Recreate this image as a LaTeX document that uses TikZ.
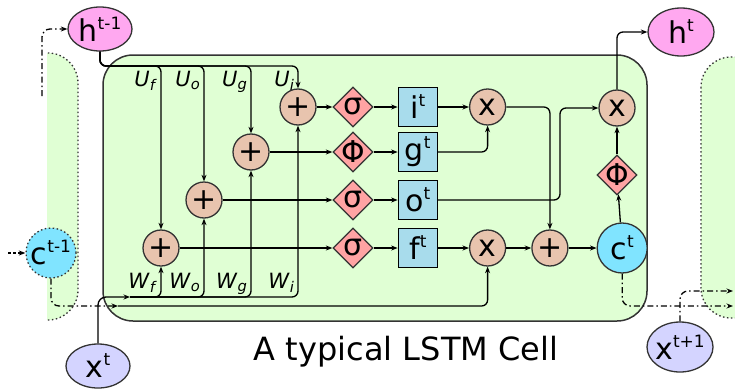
\documentclass[tikz,border=0pt]{standalone}
\usepackage{fontspec}
\setmainfont{DejaVu Sans}
\usepackage{xcolor}
\usepackage{tikz}
\usetikzlibrary{arrows.meta,positioning,shapes.geometric}

\definecolor{cellgreen}{HTML}{E0FFD4}
\definecolor{opfill}{HTML}{E8C4AE}
\definecolor{actfill}{HTML}{FFA3A3}
\definecolor{gatefill}{HTML}{A8DCEC}
\definecolor{statefill}{HTML}{80E4FF}
\definecolor{hfill}{HTML}{FFA8F0}
\definecolor{xfill}{HTML}{D4D4FF}
\definecolor{edge}{HTML}{333333}

\newcommand\bigtxt{\fontsize{30}{34}\selectfont}
\newcommand\upidx[1]{\raisebox{12pt}{\fontsize{17}{17}\selectfont #1}}
\newcommand\wlab[2]{\textit{#1}\textsubscript{\textit{#2}}}

\begin{document}
\begin{tikzpicture}[
  x=1pt, y=-1pt,
  font=\bigtxt,
  line width=1.3pt,
  op/.style={circle, draw=edge, fill=opfill, minimum size=36pt, inner sep=0pt, label={center:#1}},
  act/.style={diamond, draw=edge, fill=actfill, minimum size=40pt, inner sep=0pt, label={center:#1}},
  gate/.style={draw=black, fill=gatefill, minimum size=39pt, inner sep=0pt},
  cstate/.style={circle, draw=edge, fill=statefill, minimum size=50pt, inner sep=0pt, label={center:#1}},
  hid/.style={ellipse, draw=edge, fill=hfill, minimum width=64pt, minimum height=44pt, inner sep=0pt, label={center:#1}},
  inp/.style={ellipse, draw=edge, fill=xfill, minimum width=64pt, minimum height=44pt, inner sep=0pt, label={center:#1}},
  wt/.style={font=\fontsize{21}{22}\selectfont, inner sep=0pt, anchor=base east},
  arr/.style={-{Stealth[length=6.5pt,width=5pt]}},
  carry/.style={dash pattern=on 6pt off 3pt on 1.5pt off 3pt},
  dots/.style={dash pattern=on 1.5pt off 2.5pt}
]
\useasboundingbox (0,0) rectangle (735,388);

% neighbouring cells
\begin{scope}
  \clip (47,0) rectangle (735,388);
  \draw[fill=cellgreen, draw=edge, dots, rounded corners=30pt] (16,53) rectangle (78,320);
  \draw[fill=cellgreen, draw=edge, dots, rounded corners=30pt] (701,57) rectangle (770,318);
\end{scope}

% the cell
\draw[fill=cellgreen, draw=edge, line width=1.5pt, rounded corners=30pt] (103,55) rectangle (647,321);

\coordinate (urow) at (0,66);
\coordinate (wrow) at (0,297);
\coordinate (xin) at (130,297);
\coordinate (cin) at (118,306);
\coordinate (oturn) at (560,0);
\coordinate (actcol) at (353,0);
\coordinate (hin) at (42,96);
\coordinate (cprev) at (8,253);
\coordinate (cout) at (733,306);
\coordinate (xout) at (733,291);

\node[hid={h\upidx{t-1}}] (hprev) at (100,29) {};
\node[hid={h\upidx{t}}, minimum width=66pt, minimum height=48pt] (hnext) at (681,32) {};
\node[inp={x\upidx{t}}] (xt) at (98,366) {};
\node[inp={x\upidx{t+1}}, minimum width=66pt, minimum height=50pt] (xnext) at (680,347) {};
\node[cstate={c\upidx{t-1}}, dots] (ctm) at (51,253) {};

\node[op=+] (plusf) at (161,248) {};
\node[op=+] (pluso) at (204,200) {};
\node[op=+] (plusg) at (251,152) {};
\node[op=+] (plusi) at (298,107) {};

\node[act=σ] (sigi) at (actcol |- plusi) {};
\node[act=Φ] (phig) at (actcol |- plusg) {};
\node[act=σ] (sigo) at (actcol |- pluso) {};
\node[act=σ] (sigf) at (actcol |- plusf) {};

\node[gate, right=24pt of sigi] (it) {i\upidx{t}};
\node[gate, right=24pt of phig] (gt) {g\upidx{t}};
\node[gate, right=24pt of sigo] (ot) {o\upidx{t}};
\node[gate, right=24pt of sigf] (ft) {f\upidx{t}};

\node[op=x, right=31pt of it] (muli) {};
\node[op=x, right=31pt of ft] (mulf) {};
\node[op=+, right=25pt of mulf] (addc) {};
\node[cstate={c\upidx{t}}, right=28pt of addc] (ct) {};
\node[act=Φ] (phic) at (617,175) {};
\node[op=x] (mulo) at (617,108) {};

\node[font=\fontsize{32}{36}\selectfont, anchor=base] (title) at (406,360) {A typical LSTM Cell};

% weights
\foreach \g in {f,o,g,i} {
  \draw[arr, rounded corners=6pt] (hprev) |- (urow -| plus\g) -- (plus\g);
  \draw[arr, rounded corners=6pt] (xin) -| (plus\g);
  \node[wt, xshift=-3pt, yshift=-20pt] (u\g) at (urow -| plus\g) {\wlab{U}{\g}};
  \node[wt, xshift=-3pt, yshift=9pt] (w\g) at (wrow -| plus\g) {\wlab{W}{\g}};
}
\draw[arr, rounded corners=8pt] (xt) |- (xin);

% gates
\draw[arr] (plusi) -- (sigi);
\draw[arr] (sigi) -- (it);
\draw[arr] (it) -- (muli);
\draw[arr] (plusg) -- (phig);
\draw[arr] (phig) -- (gt);
\draw[arr, rounded corners=6pt] (gt) -| (muli);
\draw[arr] (pluso) -- (sigo);
\draw[arr] (sigo) -- (ot);
\draw[arr, rounded corners=6pt] (ot) -| (oturn |- mulo) -- (mulo);
\draw[arr] (plusf) -- (sigf);
\draw[arr] (sigf) -- (ft);
\draw[arr] (ft) -- (mulf);
\draw[arr] (mulf) -- (addc);
\draw[arr] (addc) -- (ct);
\draw[arr, rounded corners=6pt] (muli) -| (addc);
\draw[arr] (ct) -- (phic);
\draw[arr] (phic) -- (mulo);
\draw[arr, rounded corners=6pt] (mulo) |- (hnext);

% state passing
\draw[arr, dash pattern=on 3pt off 2pt] (cprev) -- (ctm);
\draw[arr, carry, rounded corners=8pt] (ctm) |- (cin);
\draw[arr, rounded corners=6pt] (cin) -| (mulf);
\draw[arr, carry, rounded corners=8pt] (hin) |- (hprev);
\draw[arr, carry, rounded corners=8pt] (ct) |- (cout);
\draw[arr, carry, rounded corners=8pt] (xnext) |- (xout);
\end{tikzpicture}
\end{document}
